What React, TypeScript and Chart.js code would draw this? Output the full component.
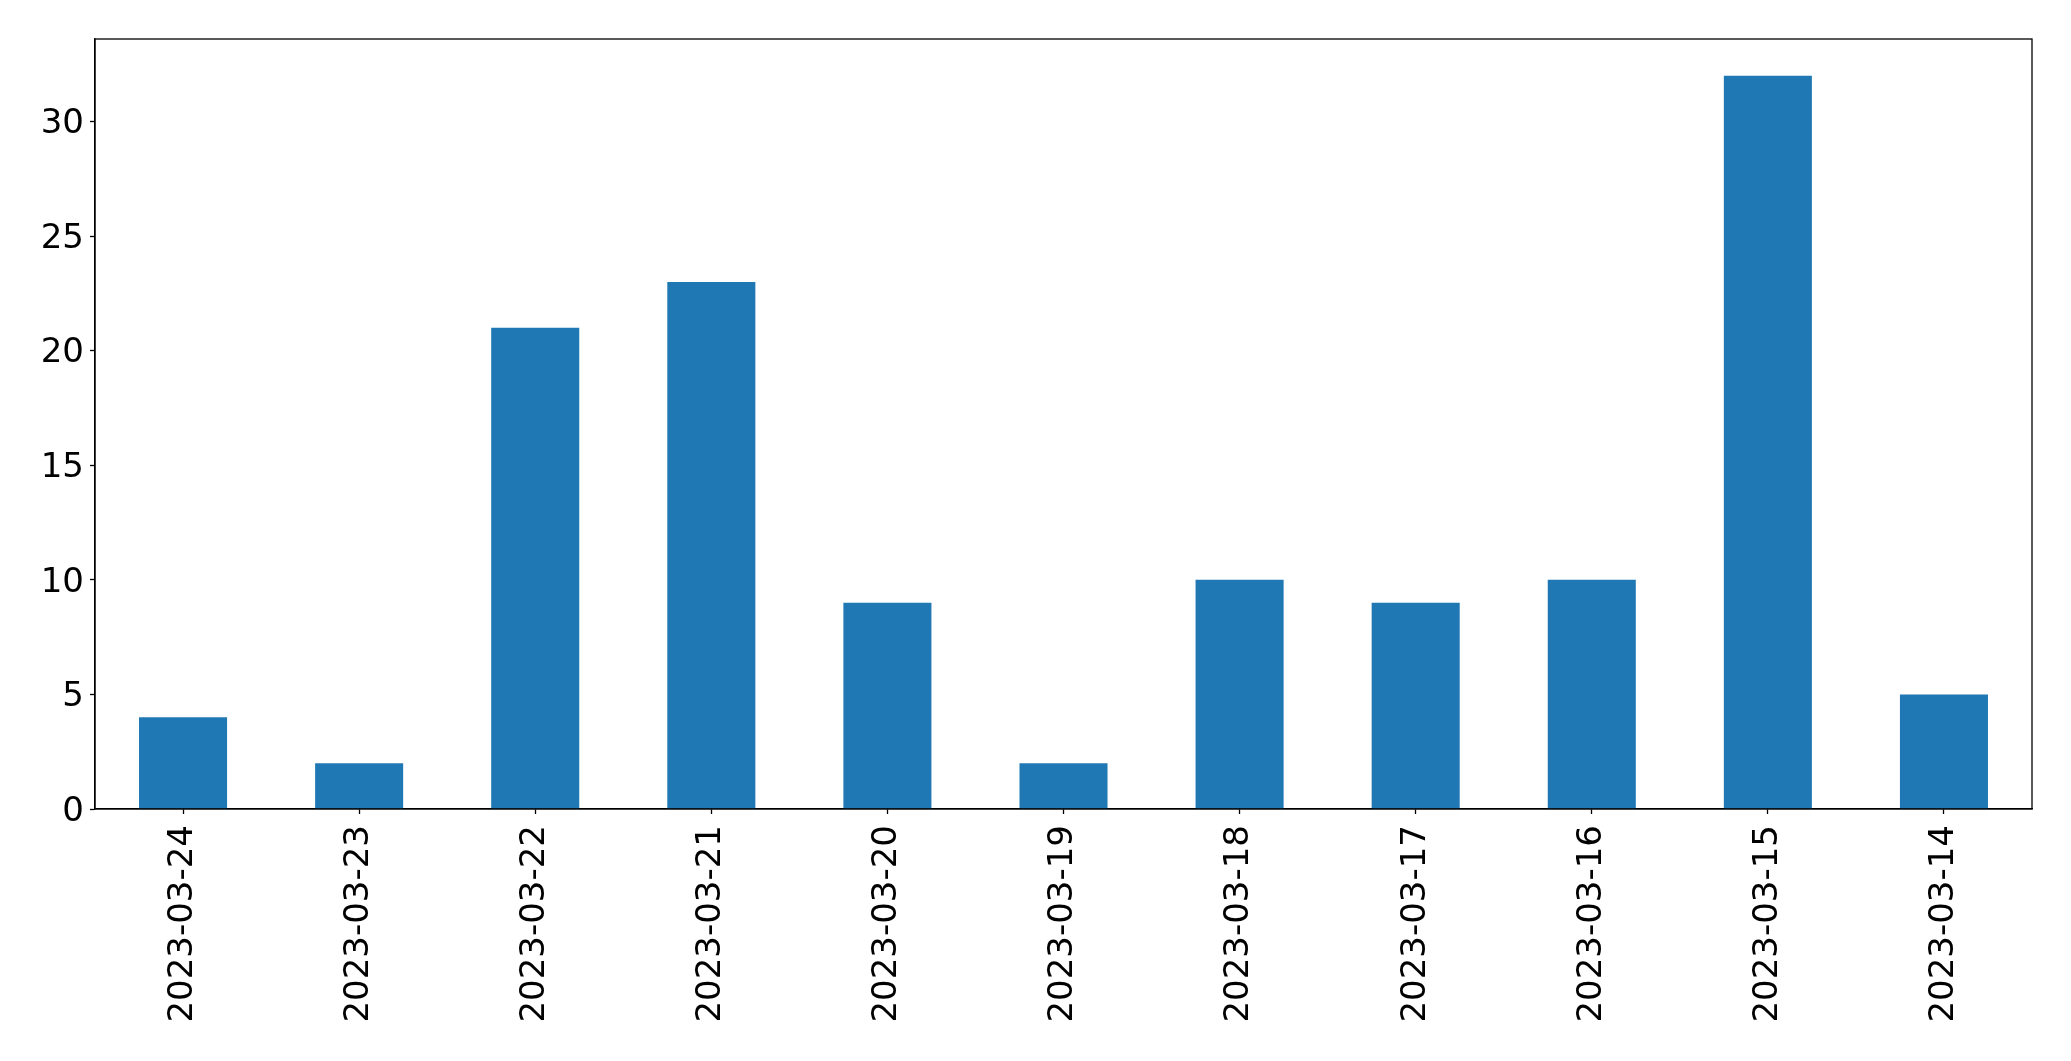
import React, { useEffect, useRef } from "react";
import { Chart, registerables } from "chart.js";

Chart.register(...registerables);

const categories = [
  "2023-03-24", "2023-03-23", "2023-03-22", "2023-03-21", "2023-03-20", "2023-03-19",
  "2023-03-18", "2023-03-17", "2023-03-16", "2023-03-15", "2023-03-14",
];
const counts = [4, 2, 21, 23, 9, 2, 10, 9, 10, 32, 5];
const yTicks = [0, 5, 10, 15, 20, 25, 30];
const yMax = 33.6;

const W = 2071;
const H = 1061;

const framePlugin = {
  id: "frame",
  afterDraw(chart: any) {
    const { ctx, chartArea } = chart;
    ctx.save();
    ctx.strokeStyle = "#000";
    ctx.lineWidth = 1.3;
    ctx.strokeRect(chartArea.left, chartArea.top, chartArea.right - chartArea.left, chartArea.bottom - chartArea.top);
    ctx.restore();
  },
};

export default function App() {
  const ref = useRef<HTMLCanvasElement>(null);
  useEffect(() => {
    document.body.style.margin = "0";
    const font = { family: "'DejaVu Sans', sans-serif", size: 34 };
    const chart = new Chart(ref.current as HTMLCanvasElement, {
      type: "bar",
      data: {
        labels: categories,
        datasets: [
          {
            data: counts,
            backgroundColor: "#1f77b4",
            borderWidth: 0,
            categoryPercentage: 1,
            barPercentage: 0.5,
          },
        ],
      },
      plugins: [framePlugin],
      options: {
        animation: false,
        responsive: false,
        devicePixelRatio: 1,
        layout: { padding: { left: 0, right: 39, top: 39, bottom: 0 } },
        plugins: { legend: { display: false }, tooltip: { enabled: false } },
        scales: {
          x: {
            offset: true,
            grid: { display: true, offset: false, drawOnChartArea: false, tickLength: 5, tickColor: "#000", tickWidth: 1.3 },
            border: { display: true, color: "#000", width: 1.3 },
            ticks: { font, color: "#000", minRotation: 90, maxRotation: 90, padding: 11, autoSkip: false },
            afterFit: (s: any) => { s.height = 252; },
          },
          y: {
            min: 0,
            max: yMax,
            grid: { display: true, drawOnChartArea: false, tickLength: 5, tickColor: "#000", tickWidth: 1.3 },
            border: { display: true, color: "#000", width: 1.3 },
            ticks: { font, color: "#000", padding: 6, includeBounds: false, stepSize: 5, labelOffset: 3 },
            afterBuildTicks: (s: any) => { s.ticks = yTicks.map((v) => ({ value: v })); },
            afterFit: (s: any) => { s.width = 95; },
          },
        },
      },
    } as any);
    return () => chart.destroy();
  }, []);
  return (
    <div style={{ position: "absolute", left: 0, top: 0, width: W, height: H, background: "#fff" }}>
      <canvas ref={ref} width={W} height={H} style={{ width: W, height: H }} />
    </div>
  );
}
